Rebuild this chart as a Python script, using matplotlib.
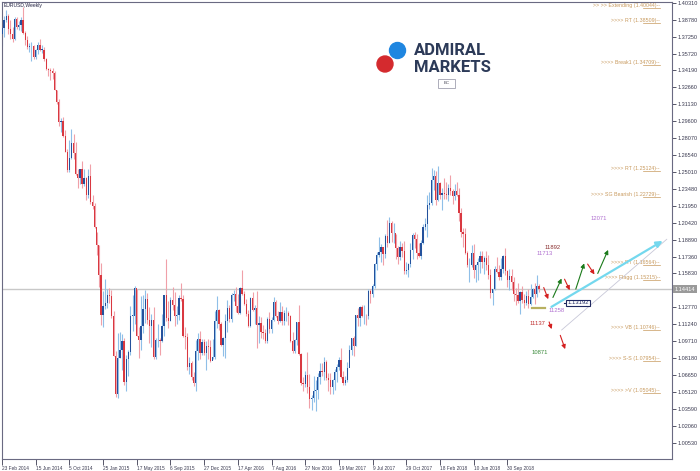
import numpy as np
import matplotlib.pyplot as plt
from matplotlib.patches import Ellipse, Rectangle

plt.rcParams['font.family'] = ['Liberation Sans', 'DejaVu Sans']

# EURUSD weekly candles, 23 Feb 2014 .. 13 Jan 2019
first_open = 1.3745
closes = [
    # 2014
    1.3803, 1.3873, 1.3913, 1.3791, 1.3750, 1.3704, 1.3885, 1.3813, 1.3830, 1.3873,
    1.3755, 1.3695, 1.3628, 1.3638, 1.3643, 1.3540, 1.3607, 1.3645, 1.3605, 1.3605,
    1.3525, 1.3430, 1.3426, 1.3415, 1.3400, 1.3240, 1.3130, 1.2950, 1.2960, 1.2830,
    1.2685, 1.2515, 1.2630, 1.2760, 1.2670, 1.2485, 1.2450, 1.2525, 1.2390, 1.2450,
    1.2290, 1.2465, 1.2225, 1.2190, 1.2000,
    # 2015
    1.1840, 1.1565, 1.1205, 1.1290, 1.1315, 1.1390, 1.1380, 1.1195, 1.0840, 1.0495,
    1.0820, 1.0890, 1.0970, 1.0600, 1.0810, 1.0875, 1.1200, 1.1200, 1.1450, 1.1015,
    1.0985, 1.1110, 1.1265, 1.1350, 1.1165, 1.1110, 1.1160, 1.0830, 1.0980, 1.0985,
    1.0970, 1.1105, 1.1385, 1.1180, 1.1150, 1.1340, 1.1300, 1.1195, 1.1210, 1.1360,
    1.1350, 1.1015, 1.1005, 1.0740, 1.0770, 1.0645, 1.0595, 1.0880, 1.0990, 1.0865,
    1.0965, 1.0860,
    # 2016
    1.0925, 1.0915, 1.0795, 1.0830, 1.1155, 1.1255, 1.1130, 1.0935, 1.0995, 1.1155,
    1.1270, 1.1170, 1.1390, 1.1395, 1.1285, 1.1225, 1.1455, 1.1400, 1.1310, 1.1220,
    1.1110, 1.1365, 1.1250, 1.1275, 1.1115, 1.1135, 1.1050, 1.1040, 1.0975, 1.1175,
    1.1085, 1.1165, 1.1325, 1.1200, 1.1155, 1.1235, 1.1155, 1.1225, 1.1225, 1.1200,
    1.0970, 1.0880, 1.0985, 1.1140, 1.0855, 1.0590, 1.0585, 1.0665, 1.0560, 1.0450,
    1.0455, 1.0520,
    # 2017
    1.0530, 1.0645, 1.0705, 1.0695, 1.0785, 1.0640, 1.0615, 1.0560, 1.0620, 1.0690,
    1.0740, 1.0800, 1.0650, 1.0590, 1.0615, 1.0725, 1.0895, 1.0995, 1.0930, 1.1205,
    1.1180, 1.1280, 1.1195, 1.1200, 1.1195, 1.1425, 1.1400, 1.1470, 1.1665, 1.1750,
    1.1775, 1.1820, 1.1760, 1.1925, 1.1860, 1.2035, 1.1945, 1.1950, 1.1815, 1.1730,
    1.1820, 1.1785, 1.1605, 1.1610, 1.1665, 1.1795, 1.1935, 1.1895, 1.1770, 1.1745,
    1.1860, 1.2005,
    # 2018
    1.2030, 1.2200, 1.2220, 1.2425, 1.2460, 1.2250, 1.2405, 1.2295, 1.2315, 1.2305,
    1.2290, 1.2355, 1.2325, 1.2280, 1.2330, 1.2290, 1.2130, 1.1960, 1.1940, 1.1770,
    1.1655, 1.1660, 1.1770, 1.1610, 1.1655, 1.1685, 1.1745, 1.1685, 1.1720, 1.1655,
    1.1570, 1.1410, 1.1440, 1.1620, 1.1600, 1.1550, 1.1625, 1.1745, 1.1605, 1.1525,
    1.1560, 1.1510, 1.1400, 1.1385, 1.1335, 1.1415, 1.1340, 1.1315, 1.1380, 1.1305,
    1.1370, 1.1440, 1.1395,
    # 2019
    1.1470, 1.1441,
]
highs = [
    1.3825, 1.3915, 1.3967, 1.3931, 1.3876, 1.3810, 1.3905, 1.3900, 1.3866, 1.3906,
    1.3993, 1.3777, 1.3732, 1.3670, 1.3676, 1.3650, 1.3614, 1.3675, 1.3700, 1.3650,
    1.3630, 1.3530, 1.3445, 1.3440, 1.3444, 1.3410, 1.3245, 1.3160, 1.2990, 1.2996,
    1.2880, 1.2705, 1.2790, 1.2887, 1.2840, 1.2770, 1.2530, 1.2532, 1.2600, 1.2531,
    1.2456, 1.2530, 1.2570, 1.2290, 1.2220,
    1.1960, 1.1840, 1.1680, 1.1420, 1.1535, 1.1440, 1.1450, 1.1430, 1.1245, 1.0880,
    1.1043, 1.1052, 1.1035, 1.1000, 1.0850, 1.0890, 1.1290, 1.1392, 1.1467, 1.1440,
    1.1100, 1.1380, 1.1385, 1.1436, 1.1410, 1.1278, 1.1215, 1.1278, 1.1000, 1.1129,
    1.1000, 1.1215, 1.1390, 1.1714, 1.1330, 1.1370, 1.1460, 1.1415, 1.1287, 1.1390,
    1.1495, 1.1390, 1.1095, 1.1045, 1.0830, 1.0790, 1.0690, 1.0981, 1.1043, 1.1060,
    1.0990, 1.0990,
    1.0970, 1.0990, 1.0985, 1.0990, 1.1246, 1.1376, 1.1260, 1.1140, 1.1005, 1.1218,
    1.1342, 1.1300, 1.1410, 1.1437, 1.1465, 1.1395, 1.1460, 1.1616, 1.1420, 1.1350,
    1.1250, 1.1370, 1.1415, 1.1300, 1.1428, 1.1195, 1.1185, 1.1120, 1.1085, 1.1190,
    1.1234, 1.1185, 1.1366, 1.1340, 1.1240, 1.1327, 1.1285, 1.1257, 1.1280, 1.1245,
    1.1205, 1.1058, 1.0990, 1.1145, 1.1300, 1.0860, 1.0645, 1.0700, 1.0874, 1.0670,
    1.0485, 1.0653,
    1.0620, 1.0685, 1.0775, 1.0775, 1.0830, 1.0800, 1.0680, 1.0680, 1.0630, 1.0715,
    1.0760, 1.0830, 1.0905, 1.0700, 1.0660, 1.0780, 1.0940, 1.0995, 1.1020, 1.1210,
    1.1268, 1.1285, 1.1296, 1.1296, 1.1215, 1.1445, 1.1445, 1.1490, 1.1680, 1.1775,
    1.1910, 1.1845, 1.1780, 1.1940, 1.2070, 1.2092, 1.2060, 1.2035, 1.1940, 1.1830,
    1.1880, 1.1860, 1.1880, 1.1690, 1.1675, 1.1860, 1.1945, 1.1961, 1.1940, 1.1862,
    1.1885, 1.2030,
    1.2089, 1.2296, 1.2323, 1.2537, 1.2520, 1.2510, 1.2555, 1.2410, 1.2355, 1.2446,
    1.2410, 1.2388, 1.2475, 1.2345, 1.2396, 1.2414, 1.2355, 1.2175, 1.1995, 1.1995,
    1.1790, 1.1725, 1.1840, 1.1852, 1.1665, 1.1720, 1.1790, 1.1790, 1.1745, 1.1790,
    1.1750, 1.1620, 1.1445, 1.1650, 1.1734, 1.1660, 1.1720, 1.1750, 1.1815, 1.1615,
    1.1620, 1.1620, 1.1550, 1.1455, 1.1500, 1.1420, 1.1472, 1.1400, 1.1420, 1.1440,
    1.1486, 1.1450, 1.1497,
    1.1570, 1.1485,
]
lows = [
    1.3643, 1.3717, 1.3857, 1.3749, 1.3705, 1.3673, 1.3696, 1.3791, 1.3783, 1.3773,
    1.3750, 1.3647, 1.3615, 1.3585, 1.3503, 1.3520, 1.3523, 1.3568, 1.3593, 1.3574,
    1.3500, 1.3423, 1.3367, 1.3333, 1.3340, 1.3238, 1.3119, 1.2920, 1.2860, 1.2815,
    1.2680, 1.2500, 1.2500, 1.2615, 1.2615, 1.2470, 1.2358, 1.2393, 1.2359, 1.2370,
    1.2247, 1.2267, 1.2210, 1.2165, 1.1990,
    1.1754, 1.1460, 1.1114, 1.1098, 1.1262, 1.1270, 1.1315, 1.1176, 1.0838, 1.0462,
    1.0457, 1.0820, 1.0713, 1.0570, 1.0520, 1.0660, 1.0845, 1.1063, 1.1130, 1.1013,
    1.0818, 1.0887, 1.1048, 1.1135, 1.1130, 1.0955, 1.0916, 1.0810, 1.0808, 1.0920,
    1.0848, 1.0960, 1.1017, 1.1155, 1.1087, 1.1150, 1.1250, 1.1105, 1.1130, 1.1160,
    1.1330, 1.1010, 1.0897, 1.0710, 1.0675, 1.0617, 1.0565, 1.0524, 1.0800, 1.0805,
    1.0850, 1.0850,
    1.0710, 1.0805, 1.0778, 1.0810, 1.0808, 1.1090, 1.1070, 1.0928, 1.0835, 1.0822,
    1.1058, 1.1144, 1.1145, 1.1330, 1.1234, 1.1217, 1.1218, 1.1385, 1.1300, 1.1200,
    1.1097, 1.1095, 1.1240, 1.1130, 1.0912, 1.0950, 1.1000, 1.0990, 1.0950, 1.0952,
    1.1045, 1.1045, 1.1150, 1.1190, 1.1122, 1.1140, 1.1120, 1.1120, 1.1150, 1.1120,
    1.0965, 1.0860, 1.0860, 1.0940, 1.0850, 1.0570, 1.0518, 1.0555, 1.0505, 1.0366,
    1.0350, 1.0420,
    1.0341, 1.0450, 1.0580, 1.0660, 1.0620, 1.0620, 1.0520, 1.0490, 1.0495, 1.0525,
    1.0600, 1.0710, 1.0640, 1.0570, 1.0570, 1.0600, 1.0820, 1.0850, 1.0840, 1.0925,
    1.1110, 1.1110, 1.1190, 1.1130, 1.1120, 1.1170, 1.1312, 1.1370, 1.1450, 1.1610,
    1.1730, 1.1690, 1.1660, 1.1720, 1.1823, 1.1860, 1.1865, 1.1860, 1.1717, 1.1668,
    1.1705, 1.1730, 1.1575, 1.1574, 1.1554, 1.1640, 1.1715, 1.1810, 1.1717, 1.1730,
    1.1717, 1.1850,
    1.1980, 1.1915, 1.2165, 1.2200, 1.2335, 1.2205, 1.2235, 1.2260, 1.2154, 1.2260,
    1.2255, 1.2240, 1.2290, 1.2215, 1.2250, 1.2285, 1.2055, 1.1910, 1.1823, 1.1760,
    1.1645, 1.1510, 1.1640, 1.1541, 1.1508, 1.1525, 1.1590, 1.1630, 1.1576, 1.1610,
    1.1530, 1.1365, 1.1301, 1.1430, 1.1590, 1.1525, 1.1525, 1.1590, 1.1570, 1.1460,
    1.1430, 1.1430, 1.1335, 1.1302, 1.1320, 1.1216, 1.1320, 1.1267, 1.1300, 1.1269,
    1.1300, 1.1360, 1.1310,
    1.1370, 1.1415,
]

date_labels = ['23 Feb 2014', '15 Jun 2014', '5 Oct 2014', '25 Jan 2015', '17 May 2015',
               '6 Sep 2015', '27 Dec 2015', '17 Apr 2016', '7 Aug 2016', '27 Nov 2016',
               '19 Mar 2017', '9 Jul 2017', '29 Oct 2017', '18 Feb 2018', '10 Jun 2018',
               '30 Sep 2018']
price_ticks = [1.00530, 1.02060, 1.03590, 1.05120, 1.06650, 1.08180, 1.09710, 1.11240,
               1.12770, 1.15830, 1.17360, 1.18890, 1.20420, 1.21950, 1.23480, 1.25010,
               1.26540, 1.28070, 1.29600, 1.31130, 1.32660, 1.34190, 1.35720, 1.37250,
               1.38780, 1.40310]
current_price = 1.14414

level_names = ['>> >> Extending', '>>>> RT', '>>>> Break1', '>>>> RT', '>>>> SG Bearish',
               '>>>> RT', '>>>> Flagg', '>>>> VB', '>>>> S-S', '>>>> >V']
level_values = [1.40044, 1.38509, 1.34709, 1.25124, 1.22729,
                1.16564, 1.15215, 1.10746, 1.07954, 1.05045]

# projection targets (labels on the right side)
target_text = ['11892', '11713', '11258', '11137', '10871', '12071']
target_price = [1.1820, 1.1765, 1.1252, 1.1132, 1.0870, 1.2082]
target_week = [261.4, 257.6, 263.3, 254.3, 255.3, 283.5]
target_color = ['#8a3030', '#b070d0', '#b070d0', '#c03030', '#3a8a3a', '#b070d0']

opens = [first_open] + closes[:-1]
n = len(closes)
idx = np.arange(n)

W, H = 700, 471
fig = plt.figure(figsize=(W / 100, H / 100), dpi=100)
ax = fig.add_axes([2 / W, 12 / H, 670 / W, 457 / H])
ax.set_xlim(0, 318.2)
ax.set_ylim(0.9905, 1.4038)

# candles
o = np.array(opens); c = np.array(closes)
hi = np.array(highs); lo = np.array(lows)
up = c >= o
wick_col = np.where(up, '#8fbfe8', '#f0a0a8')
body_col = np.where(up, '#24519c', '#d93840')
ax.vlines(idx, lo, hi, colors=wick_col, linewidth=0.8, zorder=2)
bot = np.minimum(o, c)
ht = np.maximum(np.abs(c - o), 0.0004)
ax.bar(idx, ht, bottom=bot, width=0.6, color=body_col, linewidth=0, zorder=3)

# current price line
ax.axhline(current_price, color='#c8c8c8', lw=1, zorder=1)

# level labels with short level segments
for name, val in zip(level_names, level_values):
    ty = min(val, 1.3985)
    ax.text(312.5, ty, '%s (%.5f)--' % (name, val), ha='right', va='bottom',
            fontsize=3.8, color='#c89a5e', zorder=4)
    ax.plot([304.5, 312.5], [ty, ty], color='#c89a5e', lw=0.5, zorder=4)

for t, p, w, col in zip(target_text, target_price, target_week, target_color):
    ax.text(w, p, t, ha='center', va='center', fontsize=4.2, color=col, zorder=5)

# olive support stub
ax.plot([251.7, 257.9], [1.1268, 1.1268], color='#b8b060', lw=1.6, zorder=4)

# boxed value
ax.plot([266.9, 268.8], [1.1316, 1.1316], color='#202860', lw=0.8, zorder=4)
ax.text(273.6, 1.1316, '1.13192', ha='center', va='center', fontsize=4.2, color='#202860',
        bbox=dict(boxstyle='square,pad=0.15', fc='white', ec='#202860', lw=0.8), zorder=6)

# channel lines
ax.plot([265.8, 315.7], [1.1072, 1.1892], color='#c8c8d8', lw=0.6, zorder=3)
ax.annotate('', xy=(314.9, 1.1890), xytext=(259.8, 1.1268),
            arrowprops=dict(arrowstyle='-|>', color='#74d8ee', lw=1.6, mutation_scale=9),
            zorder=4)

# projected swings
swings = [
    ((256.8, 1.1479), (259.9, 1.1327), '#d42020'),
    ((261.1, 1.1343), (266.3, 1.1560), '#1a7a1a'),
    ((266.6, 1.1554), (270.2, 1.1409), '#d42020'),
    ((272.1, 1.1418), (276.9, 1.1698), '#1a7a1a'),
    ((277.4, 1.1689), (282.1, 1.1553), '#d42020'),
    ((282.4, 1.1560), (288.4, 1.1819), '#1a7a1a'),
    ((259.4, 1.1168), (261.5, 1.1056), '#d42020'),
    ((264.7, 1.1047), (267.9, 1.0875), '#d42020'),
]
for a, b, col in swings:
    ax.annotate('', xy=b, xytext=a,
                arrowprops=dict(arrowstyle='-|>', color=col, lw=0.8, mutation_scale=6),
                zorder=5)

# axes styling
for s in ax.spines.values():
    s.set_color('#6a6a82')
    s.set_linewidth(0.8)
ax.yaxis.tick_right()
ax.set_yticks(price_ticks)
ax.set_yticklabels(['%.5f' % p for p in price_ticks])
ax.tick_params(axis='y', direction='out', length=3, width=0.6, pad=1,
               labelsize=4.0, colors='#3a3a50')
ax.set_xticks([16 * i for i in range(len(date_labels))])
ax.set_xticklabels(date_labels, ha='left')
ax.tick_params(axis='x', direction='out', length=4, width=0.6, pad=1,
               labelsize=3.4, colors='#3a3a50')

# current price tag on the axis
ax.text(1.004, current_price, '1.14414', transform=ax.get_yaxis_transform(),
        ha='left', va='center', fontsize=4.0, color='white',
        bbox=dict(boxstyle='square,pad=0.25', fc='#9a9a9a', ec='none'), zorder=7,
        clip_on=False)

# title
fig.text(4 / W, 1 - 6 / H, 'EURUSD,Weekly', fontsize=3.6, color='#202040',
         ha='left', va='center')

# logo
fig.add_artist(Ellipse((397.5 / W, 1 - 50.5 / H), 16 / W, 16 / H, color='#1f86e0'))
fig.add_artist(Ellipse((385 / W, 1 - 64 / H), 16 / W, 16 / H, color='#d42a2e'))
fig.text(414 / W, 1 - 50.5 / H, 'ADMIRAL', fontsize=12, fontweight='bold',
         family='Roboto', color='#2c3a58', ha='left', va='center')
fig.text(414 / W, 1 - 67 / H, 'MARKETS', fontsize=12, fontweight='bold',
         family='Roboto', color='#2c3a58', ha='left', va='center')
fig.add_artist(Rectangle((438 / W, 1 - 88 / H), 17 / W, 9 / H, fill=False,
                         ec='#a0a0b0', lw=0.6))
fig.text(446.5 / W, 1 - 83.5 / H, 'BC', fontsize=3.2, color='#404050',
         ha='center', va='center')

fig.savefig('out.png', dpi=100)
